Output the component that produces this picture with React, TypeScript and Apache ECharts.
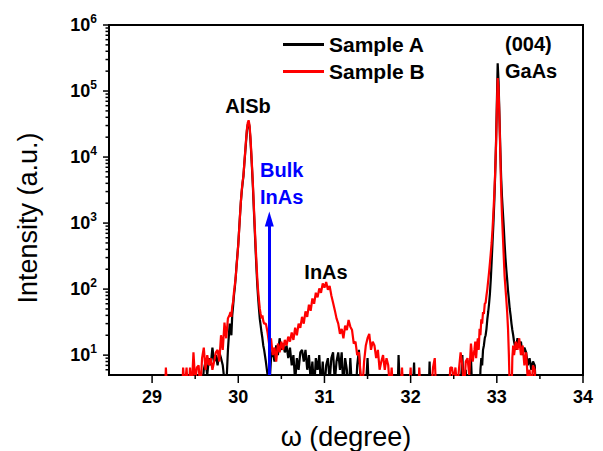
import React, { useEffect, useRef } from "react";
import * as echarts from "echarts";

const FONT = "'Liberation Sans', Arial, sans-serif";

// axis ranges and tick values
const X_MIN = 28.5;
const X_MAX = 34;
const Y_MIN = 5;
const Y_MAX = 1000000;
const xMajorTicks = [29, 30, 31, 32, 33, 34];
const xMinorTicks = [29.5, 30.5, 31.5, 32.5, 33.5];
const yMajorTicks = [10, 100, 1000, 10000, 100000, 1000000];
const yMinorTicks = [
  6, 7, 8, 9,
  20, 30, 40, 50, 60, 70, 80, 90,
  200, 300, 400, 500, 600, 700, 800, 900,
  2000, 3000, 4000, 5000, 6000, 7000, 8000, 9000,
  20000, 30000, 40000, 50000, 60000, 70000, 80000, 90000,
  200000, 300000, 400000, 500000, 600000, 700000, 800000, 900000,
];

// ---- data segments (omega in degree, intensity in a.u.) ----
// segment 1: 28.50 .. 29.90, step 0.02
const seg1Start = 28.5;
const seg1Step = 0.02;
const sampleA1 = [
  1, 1, 1, 1, 1, 1, 1, 1, 1, 1,
  1, 1, 1, 1, 1, 1, 1, 1, 1, 1,
  1, 1, 1, 1, 1, 1, 1, 1, 1, 1,
  1, 1, 1, 1, 1, 1, 1, 1, 1, 1,
  1, 1, 1, 1, 1, 1, 1, 1, 1, 1,
  1, 2, 1, 3, 3, 6, 8, 5, 9, 7,
  13, 8, 10, 7, 11, 9, 7, 4, 3, 12, 30,
];
const sampleB1 = [
  1, 1, 1, 1, 1, 1, 1, 1, 1, 1,
  1, 1, 1, 1, 1, 1, 1, 1, 1, 1,
  1, 1, 1, 1, 1, 1, 1, 1, 1, 1,
  1, 2, 1, 6.5, 2, 1, 1, 2, 1, 1,
  1, 3, 1, 6.5, 3, 6.5, 2, 6.5, 3, 11,
  4, 6.5, 7, 3, 9, 13, 6, 10, 7, 9,
  6, 8, 11, 12, 8, 20, 12, 31, 18, 36, 41,
];

// segment 2: 29.91 .. 30.30, step 0.01 (AlSb peak)
const seg2Start = 29.91;
const seg2Step = 0.01;
const sampleA2 = [
  25, 20, 40, 55, 80, 105, 150, 230, 330, 480,
  800, 1300, 2100, 3000, 4000, 5200, 7800, 11500, 17000, 25000,
  31000, 33000, 29000, 19500, 11500, 6500, 3500, 1700, 850, 420,
  220, 120, 75, 50, 35, 28, 22, 18, 14, 12,
];
const sampleB2 = [
  45, 38, 55, 64, 90, 115, 150, 220, 320, 470,
  780, 1300, 2100, 3100, 4200, 5200, 8000, 12000, 18000, 26000,
  33000, 36000, 31000, 21000, 12500, 7000, 3800, 1900, 950, 500,
  270, 150, 95, 68, 50, 42, 36, 40, 33, 30,
];

// segment 3: 30.32 .. 32.74, step 0.02 (InAs layer peak, background)
const seg3Start = 30.32;
const seg3Step = 0.02;
const sampleA3 = [
  8, 5, 3, 9, 12, 8, 14, 10, 18, 12,
  15, 11, 14, 9, 13, 7, 10, 4, 9, 6,
  11, 12, 8, 12, 6, 10, 4, 8, 3, 9,
  6, 10, 3, 8, 3, 7, 9, 4, 9, 11,
  4, 8, 11, 6, 11, 3, 9, 6, 2, 9,
  3, 1, 2, 7, 12, 4, 2, 1, 3, 9,
  2, 1, 1, 2, 1, 1, 1, 2, 1, 1,
  1, 2, 1, 1, 1, 1, 1, 10, 2, 1,
  1, 1, 1, 1, 1, 2, 7.7, 1, 1, 1,
  1, 1, 1, 1, 1, 8, 1, 1, 1, 1,
  1, 1, 1, 1, 1, 2, 1, 1, 1, 1,
  1, 1, 1, 3, 10, 2, 6, 1, 4, 9,
  2, 1,
];
const sampleB3 = [
  30, 22, 14, 18, 10, 13, 8, 15, 11, 16,
  12, 17, 14, 19, 16, 22, 17, 26, 20, 30,
  26, 38, 30, 46, 38, 58, 47, 72, 60, 88,
  75, 102, 88, 122, 105, 128, 98, 112, 80, 62,
  48, 36, 30, 21, 25, 18, 28, 24, 34, 27,
  24, 15, 16, 10, 11, 5, 3, 8, 14, 18,
  21, 12, 16, 14, 9, 12, 6, 8, 10, 6,
  9, 7, 3, 6.5, 2, 1, 2, 1, 3, 6.5,
  2, 1, 1, 2, 6.5, 1, 1, 2, 1, 6.5,
  2, 1, 1, 1, 2, 1, 3, 6.5, 9, 2,
  1, 1, 1, 2, 1, 1, 2, 6.5, 6.5, 4,
  6.5, 3, 6, 11, 7, 3, 8, 9, 5, 15,
  8, 12,
];

// segment 4: 32.75 .. 33.20, step 0.01 (GaAs (004) peak)
const seg4Start = 32.75;
const seg4Step = 0.01;
const sampleA4 = [
  1, 2, 1, 3, 1, 2, 6, 9, 7, 12,
  14, 18, 20, 25, 35, 45, 60, 85, 140, 260,
  500, 950, 2000, 5000, 15000, 60000, 263000, 140000, 45000, 14000,
  5000, 2500, 1500, 900, 500, 300, 200, 140, 95, 70,
  50, 40, 30, 24, 20, 16,
];
const sampleB4 = [
  16, 9, 14, 18, 12, 25, 20, 35, 30, 45,
  42, 60, 62, 80, 100, 135, 180, 250, 350, 500,
  800, 1400, 2600, 5500, 14000, 50000, 157000, 110000, 40000, 12000,
  3200, 1300, 650, 320, 160, 105, 70, 45, 25, 10,
  3, 1, 2, 9, 14, 10,
];

// segment 5: 33.22 .. 34.00, step 0.02
const seg5Start = 33.22;
const seg5Step = 0.02;
const sampleA5 = [
  12, 18, 14, 16, 10, 13, 11, 7, 9, 6,
  8, 7, 2, 1, 1, 1, 1, 1, 1, 1,
  1, 1, 1, 1, 1, 1, 1, 1, 1, 1,
  1, 1, 1, 1, 1, 1, 1, 1, 1, 1,
];
const sampleB5 = [
  16, 12, 18, 10, 14, 7, 11, 4, 6, 3,
  7, 6, 1, 1, 1, 1, 1, 1, 1, 1,
  1, 1, 1, 1, 1, 1, 1, 1, 1, 1,
  1, 1, 1, 1, 1, 1, 1, 1, 1, 1,
];

// bulk InAs marker
const bulkInAsX = 30.36;
const bulkInAsTop = 1150;

function build(parts: [number, number, number[]][]) {
  const out: number[][] = [];
  for (const [start, step, vals] of parts) {
    vals.forEach((v, i) => out.push([+(start + i * step).toFixed(3), v]));
  }
  return out;
}

function tickSeries(values: number[], dir: "x" | "y", len: number) {
  return {
    type: "custom",
    coordinateSystem: "cartesian2d",
    silent: true,
    clip: false,
    z: 4,
    data: values.map((v) => (dir === "x" ? [v, Y_MIN] : [X_MIN, v])),
    renderItem: (_p: any, api: any) => {
      const pt = api.coord([api.value(0), api.value(1)]);
      const shape =
        dir === "x"
          ? { x1: pt[0], y1: pt[1], x2: pt[0], y2: pt[1] + len }
          : { x1: pt[0] - len, y1: pt[1], x2: pt[0], y2: pt[1] };
      return { type: "line", shape, style: { stroke: "#000", lineWidth: 1.5 } };
    },
  };
}

function txt(text: string, x: number, y: number, align: string, color = "#000", size = 20) {
  return {
    type: "text",
    x,
    y,
    z: 10,
    style: {
      text,
      fill: color,
      fontSize: size,
      fontWeight: "bold",
      fontFamily: FONT,
      align,
      verticalAlign: "middle",
      textAlign: align,
      textVerticalAlign: "middle",
    },
  };
}

export default function App() {
  const ref = useRef<HTMLDivElement>(null);
  useEffect(() => {
    if (!ref.current) return;
    const chart = echarts.init(ref.current, undefined, { renderer: "svg" });
    const dataA = build([
      [seg1Start, seg1Step, sampleA1],
      [seg2Start, seg2Step, sampleA2],
      [seg3Start, seg3Step, sampleA3],
      [seg4Start, seg4Step, sampleA4],
      [seg5Start, seg5Step, sampleA5],
    ]);
    const dataB = build([
      [seg1Start, seg1Step, sampleB1],
      [seg2Start, seg2Step, sampleB2],
      [seg3Start, seg3Step, sampleB3],
      [seg4Start, seg4Step, sampleB4],
      [seg5Start, seg5Step, sampleB5],
    ]);
    chart.setOption({
      animation: false,
      backgroundColor: "#fff",
      grid: {
        left: 109,
        top: 25,
        right: 20,
        bottom: 76,
        show: true,
        borderColor: "#000",
        borderWidth: 2,
      },
      legend: {
        data: [
          { name: "Sample A", icon: "rect" },
          { name: "Sample B", icon: "rect" },
        ],
        orient: "vertical",
        left: 283,
        top: 34,
        padding: 0,
        itemWidth: 41,
        itemHeight: 3,
        itemGap: 6,
        selectedMode: false,
        textStyle: { fontSize: 21, fontWeight: "bold", color: "#000", fontFamily: FONT, lineHeight: 21 },
      },
      xAxis: {
        type: "value",
        min: X_MIN,
        max: X_MAX,
        interval: 0.5,
        axisLine: { show: true, onZero: false, lineStyle: { color: "#000", width: 2 } },
        axisTick: { show: false },
        splitLine: { show: false },
        axisLabel: {
          margin: 13,
          color: "#000",
          fontSize: 18,
          fontWeight: "bold",
          fontFamily: FONT,
          formatter: (v: number) => (Math.abs(v - Math.round(v)) < 1e-6 ? String(Math.round(v)) : ""),
        },
      },
      yAxis: {
        type: "log",
        logBase: 10,
        min: Y_MIN,
        max: Y_MAX,
        axisLine: { show: true, lineStyle: { color: "#000", width: 2 } },
        axisTick: { show: false },
        splitLine: { show: false },
        axisLabel: {
          margin: 12,
          color: "#000",
          formatter: (v: number) => {
            const e = Math.log10(v);
            const r = Math.round(e);
            if (Math.abs(e - r) > 1e-6) return "";
            return `{b|10}{s|${r}}`;
          },
          rich: {
            b: { fontSize: 18, fontWeight: "bold", fontFamily: FONT, color: "#000", lineHeight: 24 },
            s: { fontSize: 12, fontWeight: "bold", fontFamily: FONT, color: "#000", lineHeight: 12, verticalAlign: "top" },
          },
        },
      },
      graphic: [
        {
          type: "text",
          x: 28,
          y: 218,
          rotation: Math.PI / 2,
          style: {
            text: "Intensity (a.u.)",
            fill: "#000",
            fontSize: 27,
            fontFamily: FONT,
            align: "center",
            verticalAlign: "middle",
            textAlign: "center",
            textVerticalAlign: "middle",
          },
        },
        {
          type: "text",
          x: 346,
          y: 437,
          style: {
            text: "ω (degree)",
            fill: "#000",
            fontSize: 27,
            fontFamily: FONT,
            align: "center",
            verticalAlign: "middle",
            textAlign: "center",
            textVerticalAlign: "middle",
          },
        },
        txt("AlSb", 248, 106, "center"),
        txt("Bulk", 260, 170, "left", "#0000ff"),
        txt("InAs", 260, 197, "left", "#0000ff"),
        txt("InAs", 326, 272, "center"),
        txt("(004)", 505, 44, "left"),
        txt("GaAs", 505, 71, "left"),
      ],
      series: [
        {
          name: "Sample A",
          type: "line",
          data: dataA,
          showSymbol: false,
          symbol: "none",
          clip: true,
          lineStyle: { color: "#000", width: 2.2 },
          itemStyle: { color: "#000" },
          z: 2,
        },
        {
          name: "Sample B",
          type: "line",
          data: dataB,
          showSymbol: false,
          symbol: "none",
          clip: true,
          lineStyle: { color: "#ff0000", width: 2.2 },
          itemStyle: { color: "#ff0000" },
          z: 3,
          markLine: {
            silent: true,
            symbol: ["none", "triangle"],
            symbolSize: [9, 15],
            label: { show: false },
            lineStyle: { color: "#0000ff", width: 3, type: "solid" },
            z: 6,
            data: [[{ coord: [bulkInAsX, Y_MIN] }, { coord: [bulkInAsX, bulkInAsTop] }]],
          },
        },
        tickSeries(xMajorTicks, "x", 8),
        tickSeries(xMinorTicks, "x", 4),
        tickSeries(yMajorTicks, "y", 6),
        tickSeries(yMinorTicks, "y", 3.5),
      ],
    });
    return () => chart.dispose();
  }, []);
  return (
    <div
      ref={ref}
      style={{ position: "fixed", left: 0, top: 0, width: 603, height: 451 }}
    />
  );
}
